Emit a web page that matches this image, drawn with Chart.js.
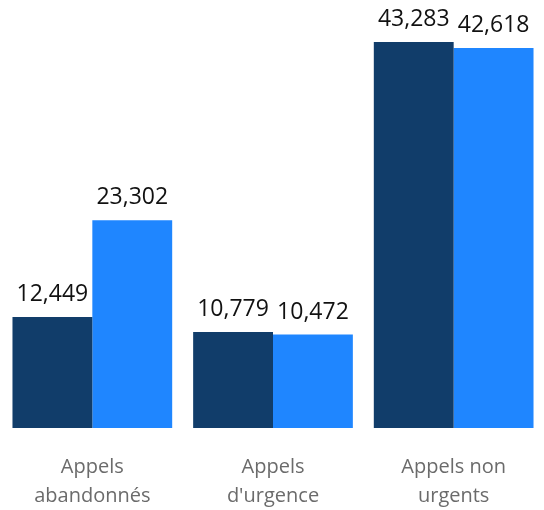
<!DOCTYPE html>
<html>
<head>
<meta charset="utf-8">
<script src="https://cdn.jsdelivr.net/npm/chart.js@4"></script>
<style>
  html, body { margin: 0; padding: 0; background: #fff; }
  #wrap { width: 544px; height: 510px; }
</style>
</head>
<body>
<div id="wrap"><canvas id="chart"></canvas></div>
<script>
const categories = [["Appels", "abandonnés"], ["Appels", "d'urgence"], ["Appels non", "urgents"]];
const seriesA = [12449, 10779, 43283];
const seriesB = [23302, 10472, 42618];

// étiquettes de valeur au-dessus des barres
const valueLabels = {
    id: 'valueLabels',
    afterDatasetsDraw(chart) {
        const ctx = chart.ctx;
        ctx.save();
        ctx.font = '23px "Open Sans"';
        ctx.fillStyle = '#111';
        ctx.textAlign = 'center';
        ctx.textBaseline = 'alphabetic';
        chart.data.datasets.forEach((ds, i) => {
            chart.getDatasetMeta(i).data.forEach((bar, j) => {
                ctx.fillText(ds.data[j].toLocaleString('en-US'), bar.x, bar.y - 16);
            });
        });
        ctx.restore();
    }
};

new Chart(document.getElementById('chart'), {
    type: 'bar',
    data: {
        labels: categories,
        datasets: [
            { data: seriesA, backgroundColor: '#113d6a' },
            { data: seriesB, backgroundColor: '#1f86ff' }
        ]
    },
    options: {
        responsive: true,
        maintainAspectRatio: false,
        animation: false,
        layout: { padding: { left: 2, right: 0, top: 0, bottom: 0 } },
        datasets: { bar: { categoryPercentage: 0.884, barPercentage: 1.0 } },
        plugins: { legend: { display: false }, tooltip: { enabled: false } },
        scales: {
            y: { display: false, min: 0, max: 48000 },
            x: {
                grid: { display: false },
                border: { display: false },
                ticks: {
                    color: '#6b6b6b',
                    font: { family: 'Open Sans', size: 20, lineHeight: 1.45 },
                    padding: 17,
                    maxRotation: 0
                },
                afterFit(scale) { scale.height = 82; }
            }
        }
    },
    plugins: [valueLabels]
});
</script>
</body>
</html>
